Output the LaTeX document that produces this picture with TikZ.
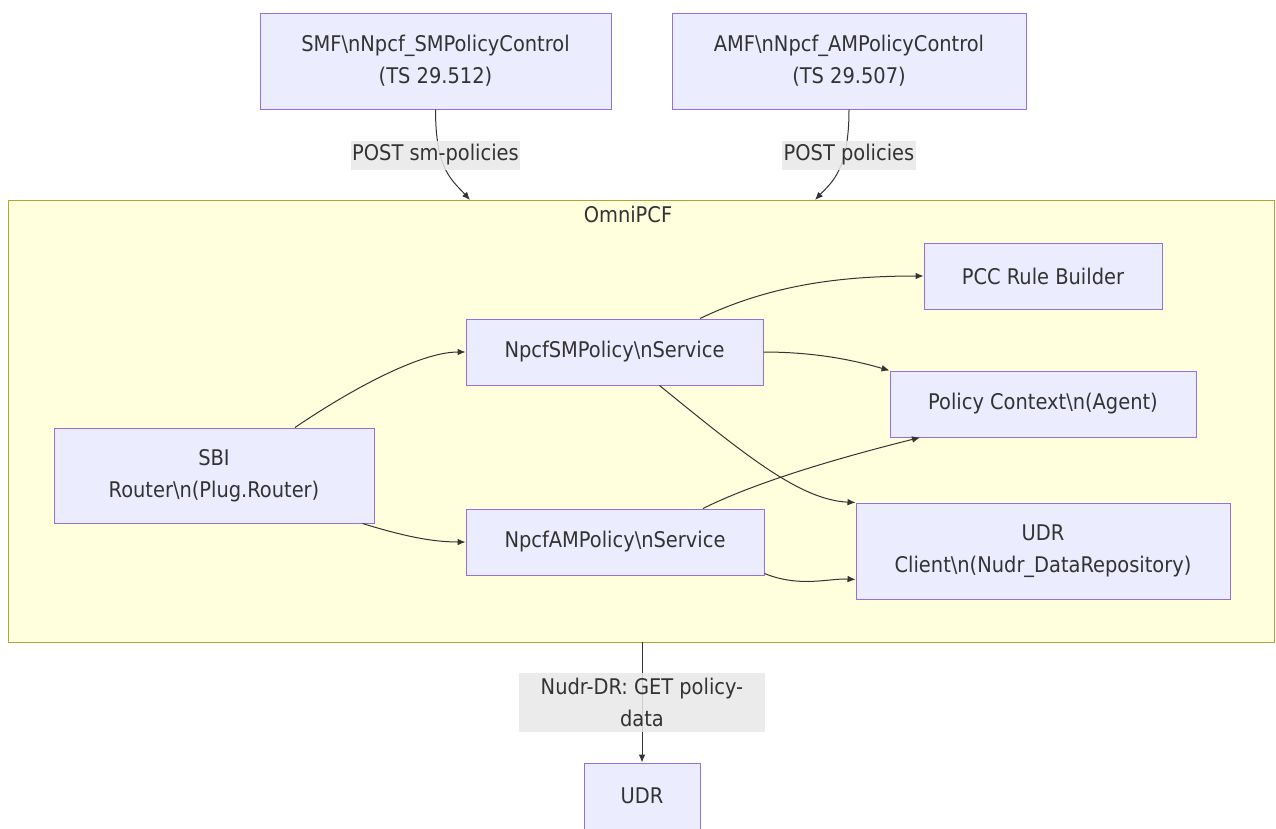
\documentclass[tikz,border=0pt]{standalone}
\usepackage{fontspec}
\setmainfont{DejaVu Sans Condensed}
\usetikzlibrary{arrows.meta,calc}
\definecolor{nfill}{HTML}{ECECFF}
\definecolor{nstroke}{HTML}{9370DB}
\definecolor{cfill}{HTML}{FFFFDE}
\definecolor{cstroke}{HTML}{AAAA33}
\definecolor{txt}{HTML}{333333}
\definecolor{lblbg}{HTML}{E8E8E8}
\begin{document}
\begin{tikzpicture}[x=0.75pt,y=-0.75pt,
  font=\fontsize{16.2}{24}\selectfont,
  box/.style={draw=nstroke, fill=nfill, line width=0.75pt, text=txt, align=center, inner sep=0pt},
  cl/.style={draw=cstroke, fill=cfill, line width=0.75pt, inner sep=0pt},
  lbl/.style={fill=lblbg, fill opacity=0.85, text opacity=1, text=txt, inner xsep=1pt, inner ysep=0pt, minimum height=21.75pt, align=center},
  arr/.style={draw=txt, line width=0.75pt, -{Latex[length=6pt,width=5pt]}}]
\useasboundingbox (0,0) rectangle (1276,828);
% cluster
\node[cl, minimum width=950pt, minimum height=331.5pt] (pcf) at (641.5,421) {};
\node[text=txt] (pcflbl) at (628,214) {OmniPCF};
% nodes
\node[box, minimum width=263.25pt, minimum height=72pt] (smf) at (435.5,61) {SMF\textbackslash nNpcf\_SMPolicyControl\\(TS 29.512)};
\node[box, minimum width=265.5pt, minimum height=72pt] (amf) at (849,61) {AMF\textbackslash nNpcf\_AMPolicyControl\\(TS 29.507)};
\node[box, minimum width=178.5pt, minimum height=49.5pt] (pcc) at (1043,276) {PCC Rule Builder};
\node[box, minimum width=222.75pt, minimum height=49.5pt] (sm) at (614.5,352) {NpcfSMPolicy\textbackslash nService};
\node[box, minimum width=229.5pt, minimum height=49.5pt] (pctx) at (1043,404) {Policy Context\textbackslash n(Agent)};
\node[box, minimum width=240pt, minimum height=71.25pt] (sbi) at (214,475.5) {SBI\\Router\textbackslash n(Plug.Router)};
\node[box, minimum width=223.5pt, minimum height=49.5pt] (am) at (615,542) {NpcfAMPolicy\textbackslash nService};
\node[box, minimum width=280.5pt, minimum height=72pt] (udrc) at (1043,551) {UDR\\Client\textbackslash n(Nudr\_DataRepository)};
\node[box, minimum width=87pt, minimum height=49.5pt] (udr) at (642,796) {UDR};
% cluster entry / exit points
\coordinate (pin1) at (470,200);
\coordinate (pin2) at (815,200);
\coordinate (pout) at (642,642);
% edges
\draw[arr] (smf.south) .. controls (435.5,170) and (452,180) .. (pin1);
\draw[arr] (amf.south) .. controls (849,170) and (832,182) .. (pin2);
\draw[arr] (pout) -- (udr.north);
\draw[arr] ([xshift=60.75pt]sbi.north) .. controls (350,390) and (420,352) .. (sm.west);
\draw[arr] ([xshift=-9pt]sbi.south east) .. controls (400,535) and (430,542) .. (am.west);
\draw[arr] ([xshift=64.125pt]sm.north) .. controls (770,285) and (840,276) .. (pcc.west);
\draw[arr] (sm.east) .. controls (820,352) and (860,362) .. (pctx.north west);
\draw[arr] ([xshift=33.75pt]sm.south) .. controls (745,455) and (800,500) .. (udrc.north west);
\draw[arr] ([xshift=66pt]am.north) .. controls (760,480) and (850,455) .. ([xshift=-92.25pt]pctx.south);
\draw[arr] ([yshift=1.5pt]am.south east) .. controls (800,588) and (830,578) .. ([yshift=15pt]udrc.west |- udrc.south);
% labels
\node[lbl] (l1) at (435.5,155) {POST sm-policies};
\node[lbl] (l2) at (849,155) {POST policies};
\node[lbl, minimum width=184.5pt, minimum height=44.25pt] (l3) at (642,702.5) {Nudr-DR: GET policy-\\data};
\end{tikzpicture}
\end{document}
